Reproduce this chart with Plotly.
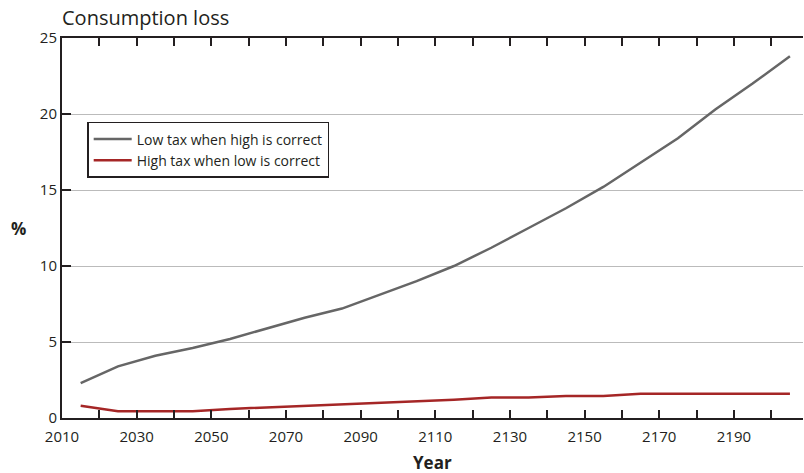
import plotly.graph_objects as go

years = [2015, 2025, 2035, 2045, 2055, 2065, 2075, 2085, 2095, 2105,
         2115, 2125, 2135, 2145, 2155, 2165, 2175, 2185, 2195, 2205]
low_tax = [2.3, 3.4, 4.1, 4.6, 5.2, 5.9, 6.6, 7.2, 8.1, 9.0,
           10.0, 11.2, 12.5, 13.8, 15.2, 16.8, 18.4, 20.3, 22.0, 23.8]
high_tax = [0.8, 0.45, 0.45, 0.45, 0.6, 0.7, 0.8, 0.9, 1.0, 1.1,
            1.2, 1.35, 1.35, 1.45, 1.45, 1.6, 1.6, 1.6, 1.6, 1.6]
x_ticks = list(range(2010, 2210, 10))
x_labels = [str(v) if (v - 2010) % 20 == 0 else "" for v in x_ticks]
y_ticks = [0, 5, 10, 15, 20, 25]

FONT = "Open Sans"
INK = "#231f20"

fig = go.Figure()
fig.add_trace(go.Scatter(x=years, y=low_tax, mode="lines", name="Low tax when high is correct",
                         line=dict(color="#666666", width=2.5)))
fig.add_trace(go.Scatter(x=years, y=high_tax, mode="lines", name="High tax when low is correct",
                         line=dict(color="#a52626", width=2.5)))

fig.update_layout(
    width=804, height=473,
    margin=dict(l=62, r=1, t=38, b=55),
    plot_bgcolor="white", paper_bgcolor="white",
    font=dict(family=FONT, size=15, color=INK),
    showlegend=True,
    legend=dict(x=0.034, y=0.779, xanchor="left", yanchor="top",
                bordercolor=INK, borderwidth=1.5, bgcolor="white",
                font=dict(size=14), itemwidth=38, tracegroupgap=2),
    xaxis=dict(range=[2010, 2208.5], tickvals=x_ticks, ticktext=x_labels,
               ticks="inside", ticklen=8, tickwidth=1.5, tickcolor=INK,
               ticklabelstandoff=4,
               showline=True, linecolor=INK, linewidth=2, mirror="ticks",
               showgrid=False, zeroline=False),
    yaxis=dict(range=[0, 25], tickvals=y_ticks,
               ticks="inside", ticklen=9, tickwidth=1.5, tickcolor=INK,
               showline=True, linecolor=INK, linewidth=2,
               showgrid=True, gridcolor="#bbbbbb", gridwidth=1, zeroline=False),
    annotations=[
        dict(text="Consumption loss", xref="paper", yref="paper", x=0, y=1,
             xanchor="left", yanchor="middle", yshift=21, xshift=-2, showarrow=False,
             font=dict(size=20, family=FONT)),
        dict(text="<b>%</b>", xref="paper", yref="paper", x=0, y=0.5,
             xanchor="center", yanchor="middle", xshift=-44, showarrow=False,
             font=dict(size=17, family=FONT)),
        dict(text="<b>Year</b>", xref="paper", yref="paper", x=0.5, y=0,
             xanchor="center", yanchor="middle", yshift=-44, showarrow=False,
             font=dict(size=17, family=FONT)),
    ],
)

fig.write_html("out.html", config={"displayModeBar": False},
               post_script="document.body.style.margin='0px';")
